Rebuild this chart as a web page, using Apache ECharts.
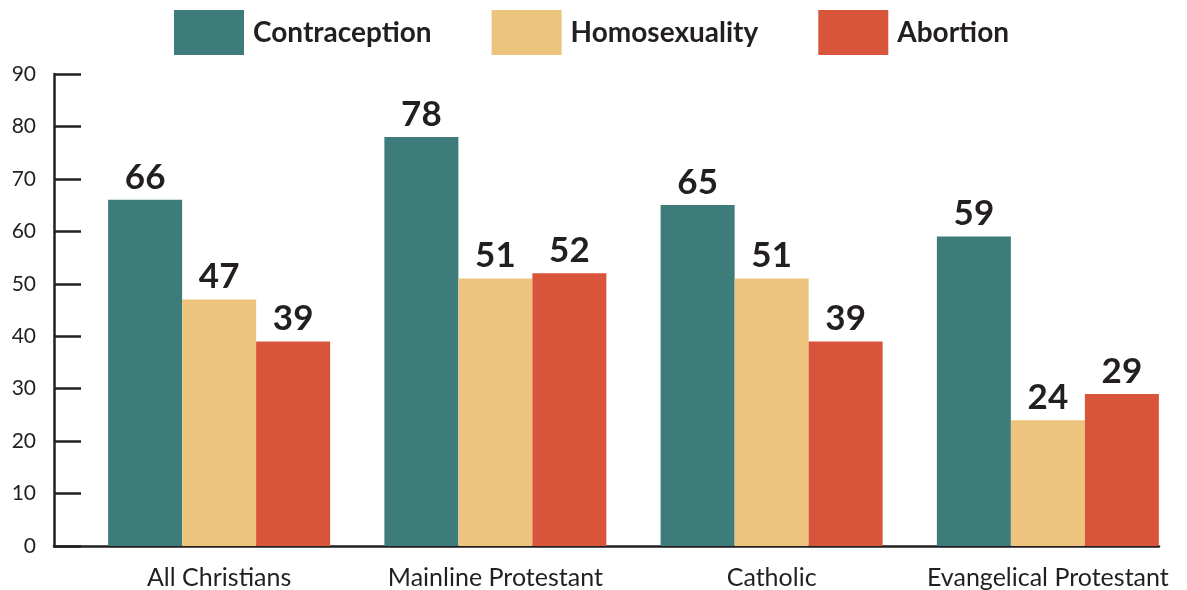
<!DOCTYPE html>
<html>
<head>
<meta charset="utf-8">
<script src="https://cdn.jsdelivr.net/npm/echarts@6/dist/echarts.min.js"></script>
<style>
  html, body { margin: 0; padding: 0; background: #fff; }
  #chart { width: 1187px; height: 590px; }
</style>
</head>
<body>
<div id="chart"></div>
<script>
// data
var categories = ['All Christians', 'Mainline Protestant', 'Catholic', 'Evangelical Protestant']
var contraception = [66, 78, 65, 59]
var homosexuality = [47, 51, 51, 24]
var abortion = [39, 52, 39, 29]
var yTicks = [0, 10, 20, 30, 40, 50, 60, 70, 80, 90]

var myChart = echarts.init(document.getElementById('chart'))
var font = 'Lato, "Noto Sans", sans-serif'

function barSeries(name, data, color) {
  return {
    name: name,
    type: 'bar',
    barWidth: 74,
    data: data,
    itemStyle: {color: color},
    label: {
      show: true,
      position: 'top',
      distance: 5,
      color: '#231f20',
      fontFamily: font,
      fontWeight: 'bold',
      fontSize: 35
    }
  }
}

var option = {
  backgroundColor: '#fff',
  animation: false,
  legend: {
    data: ['Contraception', 'Homosexuality', 'Abortion'],
    top: 5,
    left: 169,
    itemWidth: 70,
    itemHeight: 45,
    itemGap: 60,
    icon: 'rect',
    textStyle: {
      color: '#231f20',
      fontFamily: font,
      fontWeight: 'bold',
      fontSize: 28,
      padding: [0, 0, 0, 4]
    }
  },
  grid: {
    left: 54,
    right: 28,
    top: 74,
    bottom: 44,
    containLabel: false
  },
  xAxis: {
    type: 'category',
    data: categories,
    axisLine: {show: true, lineStyle: {color: '#231f20', width: 2.5}},
    axisTick: {show: false},
    axisLabel: {
      interval: 0,
      color: '#231f20',
      fontFamily: font,
      fontSize: 25,
      margin: 19,
      padding: [0, 0, 0, 54]
    }
  },
  yAxis: {
    type: 'value',
    min: yTicks[0],
    max: yTicks[yTicks.length - 1],
    interval: 10,
    splitLine: {show: false},
    axisLine: {show: true, lineStyle: {color: '#231f20', width: 2.5}},
    axisTick: {show: true, inside: true, length: 27, lineStyle: {color: '#231f20', width: 2.5}},
    axisLabel: {
      color: '#231f20',
      fontFamily: font,
      fontSize: 21,
      margin: 18
    }
  },
  series: [
    // empty spacer so each group sits at the right of its band
    {
      name: '',
      type: 'bar',
      barWidth: 54,
      barGap: '0%',
      barCategoryGap: '0%',
      data: [null, null, null, null],
      silent: true
    },
    barSeries('Contraception', contraception, '#3e7b7b'),
    barSeries('Homosexuality', homosexuality, '#ecc47e'),
    barSeries('Abortion', abortion, '#d8553b')
  ]
}
myChart.setOption(option)
window.onresize = function () {
  myChart.resize()
}
</script>
</body>
</html>
